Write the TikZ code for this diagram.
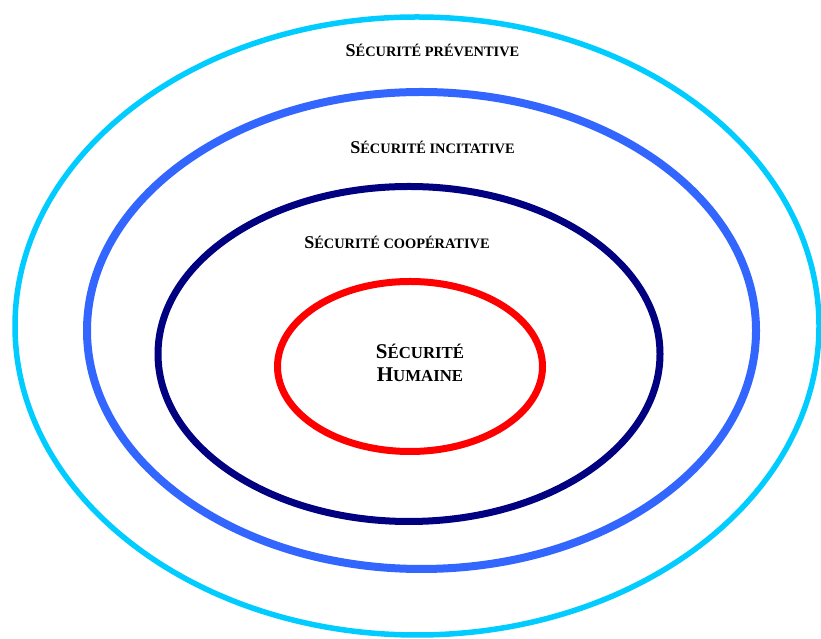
\documentclass[tikz,border=0pt]{standalone}
\usepackage{fontspec}
\setmainfont{Liberation Serif}
\usepackage{tikz}
\definecolor{ringcyan}{HTML}{00CCFF}
\definecolor{ringblue}{HTML}{3366FF}
\definecolor{ringnavy}{HTML}{000080}
\definecolor{ringred}{HTML}{FF0000}
\newcommand{\scword}[2]{{\fontsize{18}{22}\selectfont#1}{\fontsize{14.4}{22}\selectfont#2}}
\newcommand{\scwordbig}[2]{{\fontsize{21}{23}\selectfont#1}{\fontsize{16.8}{23}\selectfont#2}}
\tikzset{ring/.style={draw, line width=#1}, ring/.default=7pt,
  ringlabel/.style={anchor=base, inner sep=0pt, font=\bfseries}}

\begin{document}
\begin{tikzpicture}[x=1pt, y=1pt]
 \useasboundingbox (0,0) rectangle (821,639);

 % rings, from outside in
 \draw[ring=5.5pt, ringcyan] (417,313) ellipse [x radius=402, y radius=309];
 \draw[ring=8pt, ringblue] (421.5,308.5) ellipse [x radius=334.5, y radius=238.5];
 \draw[ring=7pt, ringnavy] (409,285) ellipse [x radius=251, y radius=167.5];
 \draw[ring=7pt, ringred]  (410,272.5) ellipse [x radius=132.5, y radius=85];

 \node[ringlabel] (preventive)  at (432.5,582) {\scword{S}{ÉCURITÉ PRÉVENTIVE}};
 \node[ringlabel] (incitative)  at (432.5,485) {\scword{S}{ÉCURITÉ INCITATIVE}};
 \node[ringlabel] (cooperative) at (397,390)   {\scword{S}{ÉCURITÉ COOPÉRATIVE}};
 \node[ringlabel, align=center, font=\fontsize{21}{23}\selectfont\bfseries] (humaine) at (420,257)
   {\scwordbig{S}{ÉCURITÉ}\\\scwordbig{H}{UMAINE}};
\end{tikzpicture}
\end{document}
